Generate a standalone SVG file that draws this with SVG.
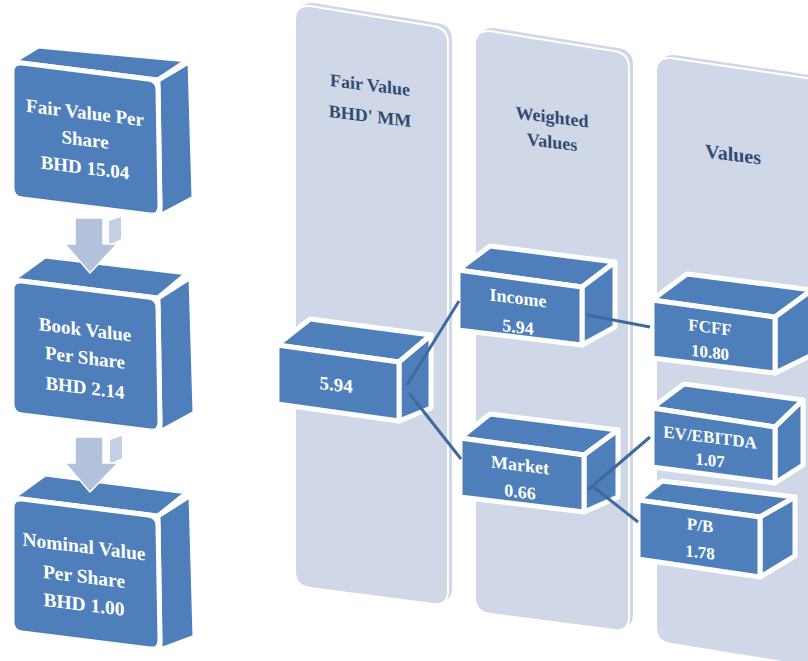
<svg xmlns="http://www.w3.org/2000/svg" width="808" height="661" viewBox="0 0 808 661">
<style>
.col{fill:#D0D8E7;stroke:#ffffff;stroke-width:2}
.colback{fill:#D0D8E7}
.cube{fill:#4E7FBB;stroke:#ffffff;stroke-width:5;stroke-linejoin:round}
.arrow{fill:#B3C2DC;stroke:#ffffff;stroke-width:1.5;stroke-linejoin:round}
.arrowside{fill:#C3CFE4}
.t{font-family:"Liberation Serif",serif;font-weight:bold;fill:#ffffff;text-anchor:middle}
.h{font-family:"Liberation Serif",serif;font-weight:bold;fill:#2F4B73;text-anchor:middle;font-size:18px}
.conn{stroke:#3F6A9E;stroke-width:3;fill:none}
</style>
<rect width="808" height="661" fill="#ffffff"/>

<!-- columns -->
<g id="col-fair-value">
<path class="colback" d="M299,17 Q299,2 314,3 L437,23 Q452,25 452,40 L452,588 Q452,603 437,601 L314,585 Q299,583 299,568 Z"/>
<path class="col" d="M295,20 Q295,5 310,6 L433,26 Q448,28 448,43 L448,591 Q448,606 433,604 L310,588 Q295,586 295,571 Z"/>
<g transform="translate(370,0) skewY(7)"><text class="h" x="0" y="91">Fair Value</text><text class="h" x="0" y="122">BHD' MM</text></g>
</g>
<g id="col-weighted">
<path class="colback" d="M479,42 Q479,27 494,28 L618,48 Q633,50 633,65 L633,614 Q633,629 618,627 L494,611 Q479,609 479,594 Z"/>
<path class="col" d="M475,45 Q475,30 490,31 L614,51 Q629,53 629,68 L629,617 Q629,632 614,630 L490,614 Q475,612 475,597 Z"/>
<g transform="translate(552,0) skewY(7)"><text class="h" x="0" y="123">Weighted</text><text class="h" x="0" y="148">Values</text></g>
</g>
<g id="col-values">
<path class="colback" d="M660,69 Q660,54 675,55 L824,77 L824,665 L675,641 Q660,639 660,624 Z"/>
<path class="col" d="M656,72 Q656,57 671,58 L820,80 L820,668 L671,644 Q656,642 656,627 Z"/>
<g transform="translate(733,0) skewY(7)"><text class="h" x="0" y="161" style="font-size:20px">Values</text></g>
</g>

<!-- left stack -->
<g id="box-fair-value-per-share">
<polygon class="cube" points="12,62 38,46 188,60 158,80"/>
<polygon class="cube" points="158,80 190,61 194,198 160,216"/>
<path class="cube" d="M12,72 Q12,62 22,63 L148,79 Q158,80 158,90 L160,206 Q160,216 150,215 L22,199 Q12,198 12,188 Z"/>
<g transform="translate(85,0) skewY(7)"><text class="t" style="font-size:19px" x="0" y="119">Fair Value Per</text><text class="t" style="font-size:19px" x="0" y="146">Share</text><text class="t" style="font-size:19px" x="0" y="174">BHD 15.04</text></g>
</g>
<g id="box-book-value">
<polygon class="cube" points="12,280 45,256 188,273 158,298"/>
<polygon class="cube" points="158,298 191,277 195,413 160,432"/>
<path class="cube" d="M12,290 Q12,280 22,281 L148,297 Q158,298 158,308 L160,422 Q160,432 150,431 L22,415 Q12,414 12,404 Z"/>
<g transform="translate(85,0) skewY(7)"><text class="t" style="font-size:19px" x="0" y="336">Book Value</text><text class="t" style="font-size:19px" x="0" y="364">Per Share</text><text class="t" style="font-size:19px" x="0" y="394">BHD 2.14</text></g>
</g>
<g id="box-nominal-value">
<polygon class="cube" points="12,498 45,474 188,492 158,516"/>
<polygon class="cube" points="158,516 191,495 195,637 160,650"/>
<path class="cube" d="M12,508 Q12,498 22,499 L148,515 Q158,516 158,526 L160,640 Q160,650 150,649 L22,633 Q12,632 12,622 Z"/>
<g transform="translate(84,0) skewY(7)"><text class="t" style="font-size:19.5px" x="0" y="553">Nominal Value</text><text class="t" style="font-size:19.5px" x="0" y="583">Per Share</text><text class="t" style="font-size:19.5px" x="0" y="611">BHD 1.00</text></g>
</g>
<g id="arrow-1">
<polygon class="arrowside" points="109,221 121,217 121,239 109,245"/>
<polygon class="arrow" points="75,218 103,218 103,244 117,244 90,273 65,244 75,244"/>
</g>
<g id="arrow-2">
<polygon class="arrowside" points="110,440 122,436 122,458 110,464"/>
<polygon class="arrow" points="75,437 103,437 103,463 118,463 90,492 65,463 75,463"/>
</g>

<!-- middle / right cubes -->
<g id="node-fair-value">
<polygon class="cube" points="277,345 310,319 431,335 399,362"/>
<polygon class="cube" points="399,362 431,335 431,408 399,421"/>
<polygon class="cube" points="277,345 399,362 399,421 277,404"/>
<g transform="translate(336,0) skewY(7)"><text class="t" style="font-size:19px" x="0" y="391">5.94</text></g>
</g>
<g id="node-income">
<polygon class="cube" points="458,270 490,246 615,262 582,287"/>
<polygon class="cube" points="582,287 615,262 615,327 582,345"/>
<polygon class="cube" points="458,270 582,287 582,345 458,330"/>
<g transform="translate(518,0) skewY(7)"><text class="t" style="font-size:18px" x="0" y="304">Income</text><text class="t" style="font-size:18px" x="0" y="333">5.94</text></g>
</g>
<g id="node-market">
<polygon class="cube" points="460,438 490,414 618,430 584,455"/>
<polygon class="cube" points="584,455 618,430 618,497 584,512"/>
<polygon class="cube" points="460,438 584,455 584,512 460,497"/>
<g transform="translate(520,0) skewY(7)"><text class="t" style="font-size:18px" x="0" y="471">Market</text><text class="t" style="font-size:18px" x="0" y="498">0.66</text></g>
</g>
<g id="node-fcff">
<polygon class="cube" points="652,300 687,274 812,290 775,317"/>
<polygon class="cube" points="775,317 812,290 812,355 775,373"/>
<polygon class="cube" points="652,300 775,317 775,373 652,358"/>
<g transform="translate(710,0) skewY(7)"><text class="t" style="font-size:17px" x="0" y="333">FCFF</text><text class="t" style="font-size:17px" x="0" y="358">10.80</text></g>
</g>
<g id="node-ev-ebitda">
<polygon class="cube" points="652,408 684,384 803,400 775,427"/>
<polygon class="cube" points="775,427 803,400 803,465 775,483"/>
<polygon class="cube" points="652,408 775,427 775,483 652,467"/>
<g transform="translate(710,0) skewY(7)"><text class="t" style="font-size:17px" x="0" y="443">EV/EBITDA</text><text class="t" style="font-size:17px" x="0" y="466">1.07</text></g>
</g>
<g id="node-pb">
<polygon class="cube" points="638,500 662,481 795,497 760,517"/>
<polygon class="cube" points="760,517 795,497 795,556 760,577"/>
<polygon class="cube" points="638,500 760,517 760,577 638,559"/>
<g transform="translate(700,0) skewY(7)"><text class="t" style="font-size:17px" x="0" y="531">P/B</text><text class="t" style="font-size:17px" x="0" y="558">1.78</text></g>
</g>

<!-- connectors -->
<g id="connectors">
<line class="conn" x1="407" y1="385" x2="459" y2="301"/>
<line class="conn" x1="409" y1="393" x2="461" y2="459"/>
<line class="conn" x1="587" y1="315" x2="650" y2="327"/>
<line class="conn" x1="588" y1="490" x2="650" y2="437"/>
<line class="conn" x1="591" y1="485" x2="638" y2="522"/>
</g>
</svg>
